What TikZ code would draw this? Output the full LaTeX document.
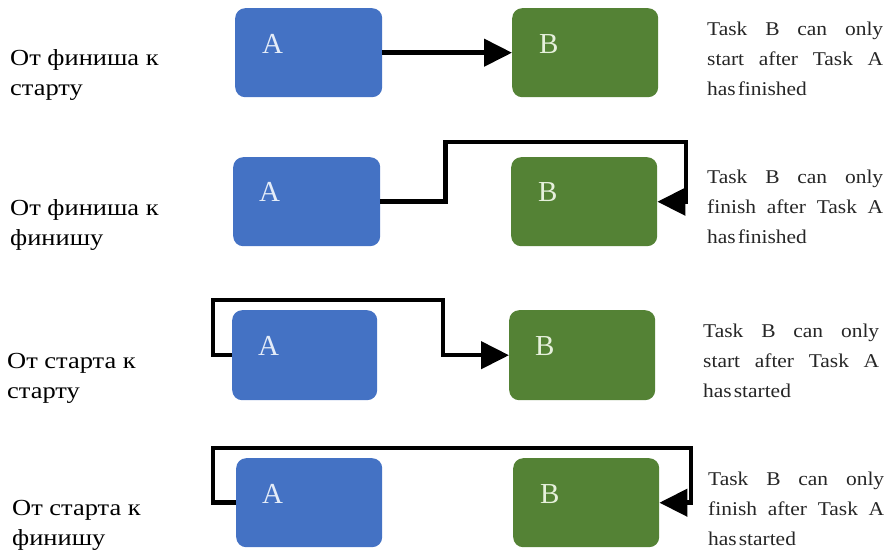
\documentclass[tikz,border=0pt]{standalone}
\usepackage{fontspec}
\setmainfont{Liberation Serif}
\newfontfamily\labfont[FakeStretch=1.15]{Liberation Serif}
\newfontfamily\descfont[FakeStretch=1.1]{Liberation Serif}
\usetikzlibrary{arrows.meta}
\definecolor{boxblue}{HTML}{4472C4}
\definecolor{boxgreen}{HTML}{548235}
\definecolor{ltxtA}{HTML}{E4ECF8}
\definecolor{ltxtB}{HTML}{E6F0DC}
\definecolor{desctext}{HTML}{262626}
\newcommand\twolines[2]{\vtop{\baselineskip=30pt\hbox{#1}\hbox{#2}}}
\newcommand\descr[3]{\vtop{\baselineskip=30pt\hbox to 176pt{#1}\hbox to 176pt{#2}\hbox{#3}}}
\begin{document}
\begin{tikzpicture}[x=1pt,y=-1pt,
  boxA/.style={fill=boxblue, rounded corners=10pt, draw=none, inner sep=0pt, anchor=north west, minimum width=147pt, minimum height=89pt},
  boxB/.style={fill=boxgreen, rounded corners=10pt, draw=none, inner sep=0pt, anchor=north west, minimum width=146pt, minimum height=89pt},
  letA/.style={anchor=base west, inner sep=0pt, text=ltxtA, font=\fontsize{29}{30}\selectfont},
  letB/.style={anchor=base west, inner sep=0pt, text=ltxtB, font=\fontsize{29}{30}\selectfont},
  lab/.style={anchor=base west, inner sep=0pt, font=\labfont\fontsize{23}{30}\selectfont},
  desc/.style={anchor=base west, inner sep=0pt, text=desctext, font=\descfont\fontsize{19.5}{30}\selectfont},
  conn/.style={draw=black, line width=4.5pt, -{Triangle[length=28pt,width=27pt]}}
]
\useasboundingbox (0,0) rectangle (888,551);
% row 1
\node[boxA] (a1) at (235,8) {};
\node[boxB] (b1) at (512,8) {};
\node[letA] (a1t) at (262,53) {A};
\node[letB] (b1t) at (539,53) {B};
\draw[conn] (a1.east) -- (b1.west);
% row 2
\node[boxA] (a2) at (233,157) {};
\node[boxB] (b2) at (511,157) {};
\node[letA] (a2t) at (259,201) {A};
\node[letB] (b2t) at (538,201) {B};
\coordinate (k2) at (686,142);
\draw[conn] (a2.east) -- ++(65,0) |- (k2) |- (b2.east);
% row 3
\node[boxA, minimum width=145pt, minimum height=90pt] (a3) at (232,310) {};
\node[boxB, minimum height=90pt] (b3) at (509,310) {};
\node[letA] (a3t) at (258,355) {A};
\node[letB] (b3t) at (535,355) {B};
\coordinate (k3) at (443,300);
\draw[conn] (a3.west) -- ++(-19,0) |- (k3) |- (b3.west);
% row 4
\node[boxA, minimum width=146pt] (a4) at (236,458) {};
\node[boxB] (b4) at (513,458) {};
\node[letA] (a4t) at (262,503) {A};
\node[letB] (b4t) at (540,503) {B};
\coordinate (k4) at (691,448);
\draw[conn] (a4.west) -- ++(-23,0) |- (k4) |- (b4.east);
% left labels
\node[lab] (l1) at (10,65) {\twolines{От финиша к}{старту}};
\node[lab] (l2) at (10,215) {\twolines{От финиша к}{финишу}};
\node[lab] (l3) at (7,368) {\twolines{От старта к}{старту}};
\node[lab] (l4) at (12,515) {\twolines{От старта к}{финишу}};
% right descriptions
\node[desc] (d1) at (707,36) {\descr{Task\hfill B\hfill can\hfill only}{start\hfill after\hfill Task\hfill A}{has\hspace{2pt}finished}};
\node[desc] (d2) at (707,183) {\descr{Task\hfill B\hfill can\hfill only}{finish\hfill after\hfill Task\hfill A}{has\hspace{2pt}finished}};
\node[desc] (d3) at (703,337) {\descr{Task\hfill B\hfill can\hfill only}{start\hfill after\hfill Task\hfill A}{has\hspace{2pt}started}};
\node[desc] (d4) at (708,485) {\descr{Task\hfill B\hfill can\hfill only}{finish\hfill after\hfill Task\hfill A}{has\hspace{2pt}started}};
\end{tikzpicture}
\end{document}
